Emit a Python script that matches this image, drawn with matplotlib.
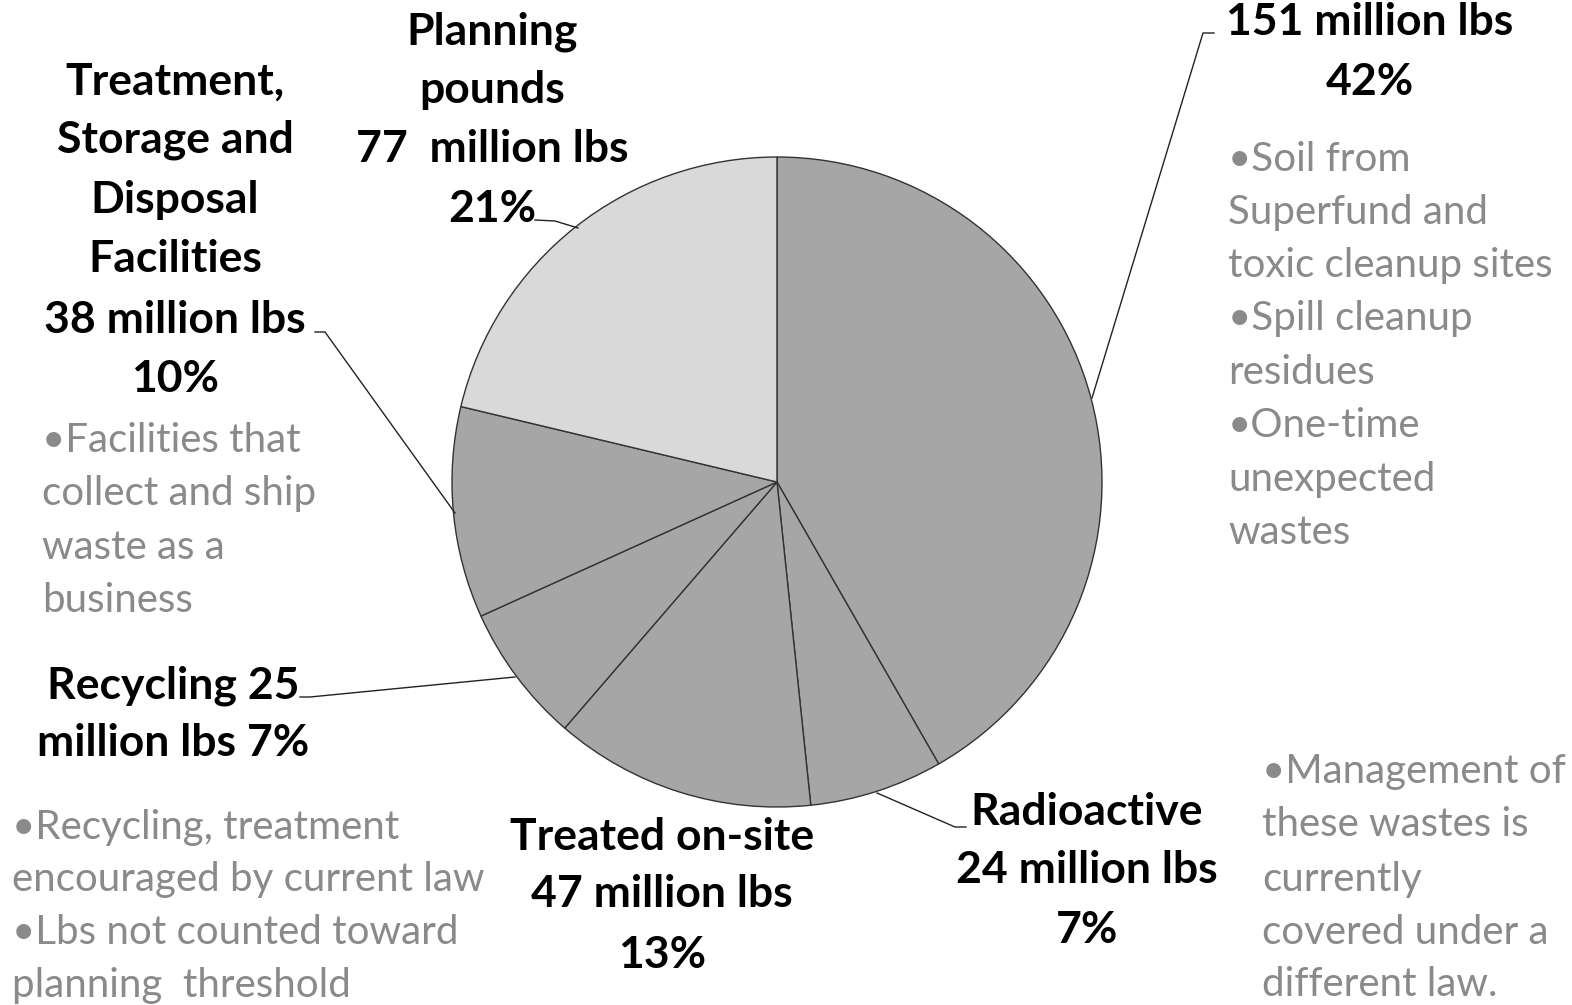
import numpy as np
import matplotlib.pyplot as plt

# slices, clockwise from 12 o'clock
names = ["Other one-time", "Radioactive", "Treated on-site", "Recycling", "TSDF", "Planning"]
pounds = [151, 24, 47, 25, 38, 77]
colors = ["#a6a6a6", "#a6a6a6", "#a6a6a6", "#a6a6a6", "#a6a6a6", "#d9d9d9"]

W, H = 1572, 1005
fig = plt.figure(figsize=(W / 100, H / 100), dpi=100)
ax = fig.add_axes([0, 0, 1, 1])

cx, cy, r = 777, H - 482, 325
ax.pie(pounds, colors=colors, startangle=90, counterclock=False,
       center=(cx, cy), radius=r, frame=True,
       wedgeprops=dict(edgecolor="#333333", linewidth=1.0))
ax.set_xlim(0, W)
ax.set_ylim(0, H)
ax.set_aspect("equal")
ax.axis("off")

BOLD = dict(family="Lato", fontweight="bold", fontsize=32, color="black", ha="center", va="center")
GRAY = dict(family="Lato", fontsize=29, color="#8a8a8a", ha="left", va="center")


def lines(x, ys, txts, style):
    for y, t in zip(ys, txts):
        ax.text(x, H - y, t, **style)


# bold labels
lines(1370, [22, 82], ["151 million lbs", "42%"], BOLD)
lines(492, [32, 90, 149, 209], ["Planning", "pounds", "77  million lbs", "21%"], BOLD)
lines(175, [82, 140, 200, 259, 320, 379],
      ["Treatment,", "Storage and", "Disposal", "Facilities", "38 million lbs", "10%"], BOLD)
lines(173, [686, 743], ["Recycling 25", "million lbs 7%"], BOLD)
lines(662, [837, 894, 955], ["Treated on-site", "47 million lbs", "13%"], BOLD)
lines(1087, [812, 870, 930], ["Radioactive", "24 million lbs", "7%"], BOLD)

# gray notes
lines(1228, [159, 212, 265, 318, 372, 425, 479, 532],
      ["\u2022Soil from", "Superfund and", "toxic cleanup sites", "\u2022Spill cleanup",
       "residues", "\u2022One-time", "unexpected", "wastes"], GRAY)
lines(42, [440, 493, 547, 600],
      ["\u2022Facilities that", "collect and ship", "waste as a", "business"], GRAY)
lines(12, [827, 880, 933, 985],
      ["\u2022Recycling, treatment", "encouraged by current law",
       "\u2022Lbs not counted toward", "planning  threshold"], GRAY)
lines(1262, [772, 825, 879, 932, 985],
      ["\u2022Management of", "these wastes is", "currently",
       "covered under a", "different law."], GRAY)

# leader lines
def leader(pts):
    xs = [p[0] for p in pts]
    ys = [H - p[1] for p in pts]
    ax.plot(xs, ys, color="#222222", linewidth=1.0)


leader([(1092, 398), (1203, 33), (1214, 33)])
leader([(578, 228), (555, 221), (535, 220)])
leader([(455, 513), (325, 332), (315, 332)])
leader([(515, 677), (310, 697), (300, 697)])
leader([(877, 793), (955, 827), (966, 827)])

fig.savefig("out.png", dpi=100, facecolor="white")
